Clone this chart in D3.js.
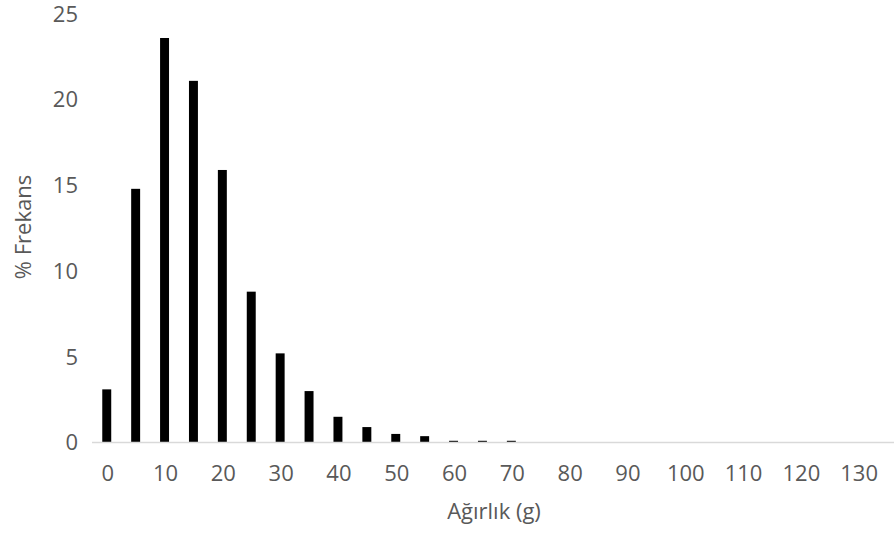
<!DOCTYPE html>
<html><head><meta charset="utf-8">
<script src="https://cdn.jsdelivr.net/npm/d3@7"></script>
<style>body{margin:0;background:#fff}svg{display:block}text{font-family:"Open Sans",sans-serif;fill:#595959}</style>
</head><body>
<svg id="c" width="894" height="534"></svg>
<script>
const categories = [0,5,10,15,20,25,30,35,40,45,50,55,60,65,70,75,80,85,90,95,100,105,110,115,120,125,130,135];
const values = [3.1,14.8,23.6,21.1,15.9,8.8,5.2,3.0,1.5,0.9,0.5,0.37,0.1,0.1,0.1,0.02,0,0.02,0.02,0,0.02,0.02,0,0,0.02,0.02,0,0.02];
const xTickLabels = [0,10,20,30,40,50,60,70,80,90,100,110,120,130];
const yTicks = [0,5,10,15,20,25];
const xTitle = "Ağırlık (g)";
const yTitle = "% Frekans";

const svg = d3.select("#c");
const x = d3.scaleBand().domain(categories).range([92.3, 901.5]).paddingInner(0.69).paddingOuter(0.345);
const y = d3.scaleLinear().domain([0,25]).range([442.5, 14]);

svg.append("g").selectAll("rect").data(categories).join("rect")
  .attr("x", d => x(d)).attr("width", x.bandwidth())
  .attr("y", (d,i) => y(values[i])).attr("height", (d,i) => y(0) - y(values[i]))
  .attr("fill", "#000");

svg.append("line").attr("x1", 92).attr("x2", 901).attr("y1", y(0)).attr("y2", y(0))
  .attr("stroke", "#d9d9d9").attr("stroke-width", 1.5);

svg.append("g").selectAll("text").data(yTicks).join("text")
  .attr("x", 78).attr("y", d => y(d)).attr("dy", "0.35em").attr("text-anchor", "end")
  .attr("font-size", 22).text(d => d);

svg.append("g").selectAll("text").data(xTickLabels).join("text")
  .attr("x", d => x(d) + x.bandwidth()/2 + 1).attr("y", 473).attr("dy", "0.35em").attr("text-anchor", "middle")
  .attr("font-size", 22).text(d => d);

svg.append("text").attr("x", 494).attr("y", 511).attr("dy", "0.35em").attr("text-anchor", "middle")
  .attr("font-size", 22).text(xTitle);
svg.append("text").attr("transform", "translate(23,227) rotate(-90)").attr("dy", "0.35em").attr("text-anchor", "middle")
  .attr("font-size", 22).text(yTitle);
</script>
</body></html>
